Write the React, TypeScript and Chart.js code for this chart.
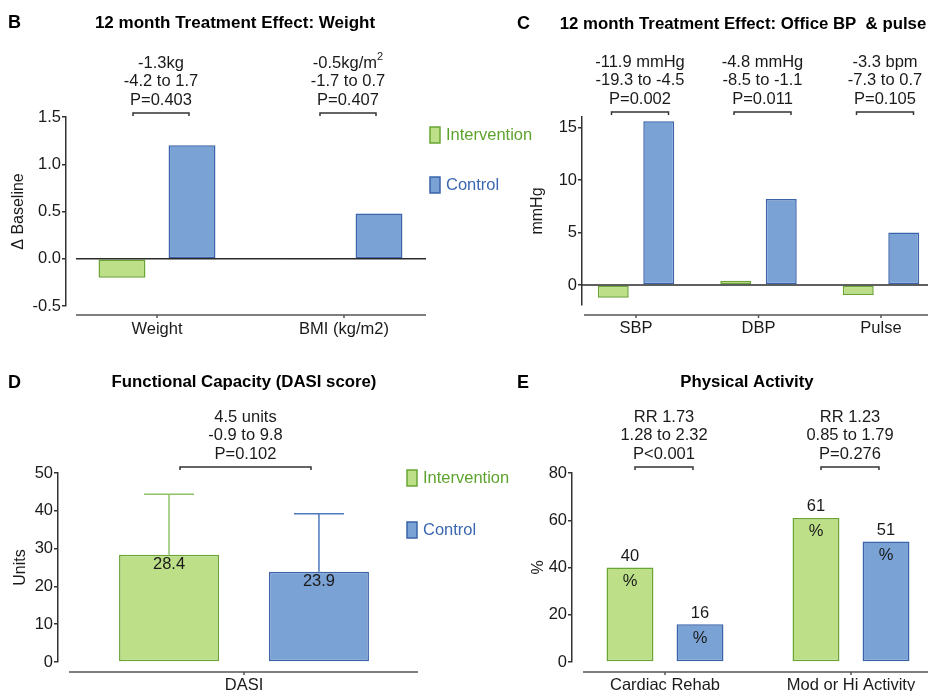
import React, { useEffect, useRef } from 'react';
import { Chart, registerables } from 'chart.js';

Chart.register(...registerables);

// ---------------- data ----------------
const seriesNames = ['Intervention', 'Control'];

const weightCategories = ['Weight', 'BMI (kg/m2)'];
const weightIntervention = [-0.2, -0.01];
const weightControl = [1.2, 0.48];
const weightTicks = [-0.5, 0, 0.5, 1, 1.5];
const weightNotes = [
  ['-1.3kg', '-4.2 to 1.7', 'P=0.403'],
  ['-0.5kg/m²', '-1.7 to 0.7', 'P=0.407'],
];

const bpCategories = ['SBP', 'DBP', 'Pulse'];
const bpIntervention = [-1.2, 0.4, -0.95];
const bpControl = [15.6, 8.2, 5.0];
const bpTicks = [0, 5, 10, 15];
const bpNotes = [
  ['-11.9 mmHg', '-19.3 to -4.5', 'P=0.002'],
  ['-4.8 mmHg', '-8.5 to -1.1', 'P=0.011'],
  ['-3.3 bpm', '-7.3 to 0.7', 'P=0.105'],
];

const dasiCategories = ['DASI'];
const dasiIntervention = [28.4];
const dasiControl = [23.9];
const dasiInterventionUpper = [44.4];
const dasiControlUpper = [39.2];
const dasiTicks = [0, 10, 20, 30, 40, 50];
const dasiNotes = [['4.5 units', '-0.9 to 9.8', 'P=0.102']];

const activityCategories = ['Cardiac Rehab', 'Mod or Hi Activity'];
const activityIntervention = [40, 61];
const activityControl = [16, 51];
const activityTicks = [0, 20, 40, 60, 80];
const activityNotes = [
  ['RR 1.73', '1.28 to 2.32', 'P<0.001'],
  ['RR 1.23', '0.85 to 1.79', 'P=0.276'],
];

// ---------------- styles ----------------
const FONT = '"Liberation Sans", Arial, Helvetica, sans-serif';
const GREEN_FILL = '#bddf88';
const GREEN_LINE = '#6aa535';
const BLUE_FILL = '#7ba2d5';
const BLUE_LINE = '#3a63aa';
const GREEN_TEXT = '#5fa32f';
const BLUE_TEXT = '#3b67b0';
const GREEN_ERR = '#8fc166';
const BLUE_ERR = '#4f79bb';
const INK = '#1a1a1a';
const AXIS = '#333333';
const NOTE_SIZE = 16.5;

type Panel = {
  id: string;
  left: number; top: number; width: number; height: number;
  plotLeft: number; plotRight: number; plotTop: number; plotBottom: number;
  xMin: number; xMax: number; yMin: number; yMax: number;
  categories: string[]; intervention: number[]; control: number[];
  yTicks: number[]; yFmt: (v: number) => string; yTitle: string; yTitlePad: number;
  catPct: number; barPct: number;
  letter: string; letterPos: [number, number];
  title: string; titlePos: [number, number]; titleSize: number;
  notes: string[][]; noteDx: number; bracketY: number; bracketHalf: number;
  axisLine: [number, number]; axisY: number;
  zeroLine?: [number, number];
  legend?: { x: number; y: [number, number] };
  errorUpper?: number[][];
  valueLabels?: 'inside' | 'above';
};

function seg(ctx: CanvasRenderingContext2D, x1: number, y1: number, x2: number, y2: number, color: string, w: number) {
  ctx.beginPath();
  ctx.strokeStyle = color;
  ctx.lineWidth = w;
  ctx.moveTo(x1, y1);
  ctx.lineTo(x2, y2);
  ctx.stroke();
}

// draws centred text; a trailing "²" is rendered as a real raised superscript
function noteText(ctx: CanvasRenderingContext2D, t: string, cx: number, cy: number) {
  const base = `${NOTE_SIZE}px ${FONT}`;
  if (t.endsWith('²')) {
    const main = t.slice(0, -1);
    ctx.font = base;
    const w1 = ctx.measureText(main).width;
    ctx.font = `11px ${FONT}`;
    const w2 = ctx.measureText('2').width;
    const x0 = cx - (w1 + w2) / 2;
    ctx.textAlign = 'left';
    ctx.font = base;
    ctx.fillText(main, x0, cy);
    ctx.font = `11px ${FONT}`;
    ctx.fillText('2', x0 + w1, cy - 6);
    ctx.textAlign = 'center';
    ctx.font = base;
  } else {
    ctx.font = base;
    ctx.fillText(t, cx, cy);
  }
}

function decorPlugin(p: Panel) {
  return {
    id: 'decor' + p.id,
    afterDraw(chart: any) {
      const ctx: CanvasRenderingContext2D = chart.ctx;
      const xs = chart.scales.x;
      const ys = chart.scales.y;
      ctx.save();

      // zero line
      if (p.zeroLine) {
        const y0 = ys.getPixelForValue(0);
        seg(ctx, p.zeroLine[0], y0, p.zeroLine[1], y0, '#2a2a2a', 1.5);
      }
      // detached x axis line with tick marks
      seg(ctx, p.axisLine[0], p.axisY, p.axisLine[1], p.axisY, '#555555', 1.5);
      p.categories.forEach((_, i) => {
        const x = xs.getPixelForValue(i);
        seg(ctx, x, p.axisY, x, p.axisY + 3, '#555555', 1.5);
      });

      // error bars
      if (p.errorUpper) {
        const colors = [GREEN_ERR, BLUE_ERR];
        p.errorUpper.forEach((arr, d) => {
          const meta = chart.getDatasetMeta(d);
          arr.forEach((u, i) => {
            const bar = meta.data[i];
            const yu = ys.getPixelForValue(u);
            seg(ctx, bar.x, bar.y, bar.x, yu, colors[d], 1.5);
            seg(ctx, bar.x - bar.width / 4, yu, bar.x + bar.width / 4, yu, colors[d], 1.5);
          });
        });
      }

      // value labels
      if (p.valueLabels) {
        ctx.fillStyle = INK;
        ctx.font = `16.5px ${FONT}`;
        ctx.textAlign = 'center';
        ctx.textBaseline = 'middle';
        [p.intervention, p.control].forEach((vals, d) => {
          const meta = chart.getDatasetMeta(d);
          vals.forEach((v, i) => {
            const bar = meta.data[i];
            if (p.valueLabels === 'inside') {
              ctx.fillText(v.toFixed(1), bar.x, bar.y + 10);
            } else {
              ctx.fillText(String(v), bar.x, bar.y - 11);
              ctx.fillText('%', bar.x, bar.y + 14);
            }
          });
        });
      }

      // brackets + notes
      ctx.textAlign = 'center';
      ctx.textBaseline = 'middle';
      ctx.fillStyle = INK;
      p.notes.forEach((lines, i) => {
        const cx = xs.getPixelForValue(i) + p.noteDx;
        const by = p.bracketY;
        ctx.beginPath();
        ctx.strokeStyle = AXIS;
        ctx.lineWidth = 1.5;
        ctx.moveTo(cx - p.bracketHalf, by + 3);
        ctx.lineTo(cx - p.bracketHalf, by);
        ctx.lineTo(cx + p.bracketHalf, by);
        ctx.lineTo(cx + p.bracketHalf, by + 3);
        ctx.stroke();
        const n = lines.length;
        lines.forEach((t, k) => {
          noteText(ctx, t, cx, by - 13 - (n - 1 - k) * 18.5);
        });
      });

      // panel letter and title
      ctx.fillStyle = '#000';
      ctx.font = `bold 18px ${FONT}`;
      ctx.textAlign = 'left';
      ctx.fillText(p.letter, p.letterPos[0], p.letterPos[1]);
      ctx.font = `bold ${p.titleSize}px ${FONT}`;
      ctx.textAlign = 'center';
      ctx.fillText(p.title, p.titlePos[0], p.titlePos[1]);

      // legend
      if (p.legend) {
        const fills = [GREEN_FILL, BLUE_FILL];
        const lines = [GREEN_LINE, BLUE_LINE];
        const texts = [GREEN_TEXT, BLUE_TEXT];
        ctx.font = `16.5px ${FONT}`;
        ctx.textAlign = 'left';
        seriesNames.forEach((name, d) => {
          const y = p.legend!.y[d];
          ctx.fillStyle = fills[d];
          ctx.fillRect(p.legend!.x, y, 10, 16);
          ctx.strokeStyle = lines[d];
          ctx.lineWidth = 1.5;
          ctx.strokeRect(p.legend!.x, y, 10, 16);
          ctx.fillStyle = texts[d];
          ctx.fillText(name, p.legend!.x + 16, y + 8);
        });
      }
      ctx.restore();
    },
  };
}

function makeChart(canvas: HTMLCanvasElement, p: Panel) {
  const tickFont = { family: FONT, size: 16.5 };
  return new Chart(canvas, {
    type: 'bar',
    data: {
      datasets: [
        {
          label: seriesNames[0],
          data: p.intervention.map((y, i) => ({ x: i, y })),
          backgroundColor: GREEN_FILL,
          borderColor: GREEN_LINE,
          borderWidth: 1.5,
          borderSkipped: false,
        },
        {
          label: seriesNames[1],
          data: p.control.map((y, i) => ({ x: i, y })),
          backgroundColor: BLUE_FILL,
          borderColor: BLUE_LINE,
          borderWidth: 1.5,
          borderSkipped: false,
        },
      ],
    } as any,
    options: {
      responsive: false,
      maintainAspectRatio: false,
      animation: false,
      devicePixelRatio: 1,
      layout: { padding: { left: 0, top: p.plotTop, right: p.width - p.plotRight, bottom: 0 } },
      datasets: { bar: { categoryPercentage: p.catPct, barPercentage: p.barPct } },
      plugins: { legend: { display: false }, tooltip: { enabled: false } },
      scales: {
        x: {
          type: 'linear',
          position: 'bottom',
          min: p.xMin,
          max: p.xMax,
          offset: false,
          border: { display: false },
          grid: { display: false, drawTicks: false, offset: false },
          afterBuildTicks: (s: any) => {
            s.ticks = p.categories.map((_, i) => ({ value: i }));
          },
          afterFit: (s: any) => {
            s.height = p.height - p.plotBottom;
          },
          ticks: {
            autoSkip: false,
            maxRotation: 0,
            minRotation: 0,
            padding: 14,
            font: tickFont,
            color: INK,
            callback: (v: any) => p.categories[Math.round(Number(v))] ?? '',
          },
        },
        y: {
          type: 'linear',
          min: p.yMin,
          max: p.yMax,
          border: { display: true, color: AXIS, width: 1.5 },
          grid: { display: true, drawOnChartArea: false, drawTicks: true, tickLength: 4, color: AXIS, lineWidth: 1.5 },
          afterBuildTicks: (s: any) => {
            s.ticks = p.yTicks.map((v) => ({ value: v }));
          },
          afterFit: (s: any) => {
            s.width = p.plotLeft;
          },
          ticks: { padding: 1, font: tickFont, color: INK, callback: (v: any) => p.yFmt(Number(v)) },
          title: {
            display: true,
            text: p.yTitle,
            font: { family: FONT, size: 16 },
            color: INK,
            padding: { top: p.yTitlePad, bottom: 0 },
          },
        },
      },
    } as any,
    plugins: [decorPlugin(p)],
  });
}

const panels: Panel[] = [
  {
    id: 'B', left: 0, top: 0, width: 560, height: 345,
    plotLeft: 66, plotRight: 440, plotTop: 117, plotBottom: 306,
    xMin: -0.4866, xMax: 1.5134, yMin: -0.5, yMax: 1.5,
    categories: weightCategories, intervention: weightIntervention, control: weightControl,
    yTicks: weightTicks, yFmt: (v) => v.toFixed(1), yTitle: 'Δ Baseline', yTitlePad: 9.4,
    catPct: 0.749, barPct: 0.67,
    letter: 'B', letterPos: [8, 23], title: '12 month Treatment Effect: Weight', titlePos: [235, 23], titleSize: 17,
    notes: weightNotes, noteDx: 4, bracketY: 113, bracketHalf: 28,
    axisLine: [76, 426], axisY: 315, zeroLine: [76, 426],
    legend: { x: 430, y: [127, 177] },
  },
  {
    id: 'C', left: 464, top: 0, width: 484, height: 345,
    plotLeft: 118, plotRight: 464, plotTop: 117, plotBottom: 305,
    xMin: -0.4408, xMax: 2.3837, yMin: -1.9, yMax: 16,
    categories: bpCategories, intervention: bpIntervention, control: bpControl,
    yTicks: bpTicks, yFmt: (v) => String(v), yTitle: 'mmHg', yTitlePad: 64,
    catPct: 0.743, barPct: 0.68,
    letter: 'C', letterPos: [53, 24], title: '12 month Treatment Effect: Office BP  & pulse', titlePos: [279, 24], titleSize: 16.8,
    notes: bpNotes, noteDx: 4, bracketY: 112, bracketHalf: 28.5,
    axisLine: [120, 464], axisY: 315, zeroLine: [118, 464],
  },
  {
    id: 'D', left: 0, top: 345, width: 560, height: 346,
    plotLeft: 58, plotRight: 430, plotTop: 128, plotBottom: 317,
    xMin: -1, xMax: 1, yMin: 0, yMax: 50,
    categories: dasiCategories, intervention: dasiIntervention, control: dasiControl,
    yTicks: dasiTicks, yFmt: (v) => String(v), yTitle: 'Units', yTitlePad: 11.4,
    catPct: 0.806, barPct: 0.667,
    letter: 'D', letterPos: [8, 38], title: 'Functional Capacity (DASI score)', titlePos: [244, 37], titleSize: 16.8,
    notes: dasiNotes, noteDx: 1.5, bracketY: 122, bracketHalf: 65.5,
    axisLine: [69, 418], axisY: 327,
    legend: { x: 407, y: [125, 177] },
    errorUpper: [dasiInterventionUpper, dasiControlUpper],
    valueLabels: 'inside',
  },
  {
    id: 'E', left: 464, top: 345, width: 484, height: 346,
    plotLeft: 108, plotRight: 464, plotTop: 128, plotBottom: 317,
    xMin: -0.5, xMax: 1.414, yMin: 0, yMax: 80,
    categories: activityCategories, intervention: activityIntervention, control: activityControl,
    yTicks: activityTicks, yFmt: (v) => String(v), yTitle: '%', yTitlePad: 65.4,
    catPct: 0.753, barPct: 0.67,
    letter: 'E', letterPos: [53, 38], title: 'Physical Activity', titlePos: [283, 37], titleSize: 16.8,
    notes: activityNotes, noteDx: -1, bracketY: 122, bracketHalf: 29,
    axisLine: [119, 464], axisY: 327,
    valueLabels: 'above',
  },
];

function PanelChart({ p }: { p: Panel }) {
  const ref = useRef<HTMLCanvasElement>(null);
  useEffect(() => {
    if (!ref.current) return;
    const chart = makeChart(ref.current, p);
    return () => chart.destroy();
  }, [p]);
  return (
    <canvas
      ref={ref}
      width={p.width}
      height={p.height}
      style={{ position: 'absolute', left: p.left, top: p.top, width: p.width, height: p.height }}
    />
  );
}

export default function App() {
  return (
    <div
      style={{
        position: 'fixed',
        left: 0,
        top: 0,
        width: 928,
        height: 691,
        overflow: 'hidden',
        background: '#ffffff',
      }}
    >
      {panels.map((p) => (
        <PanelChart key={p.id} p={p} />
      ))}
    </div>
  );
}
